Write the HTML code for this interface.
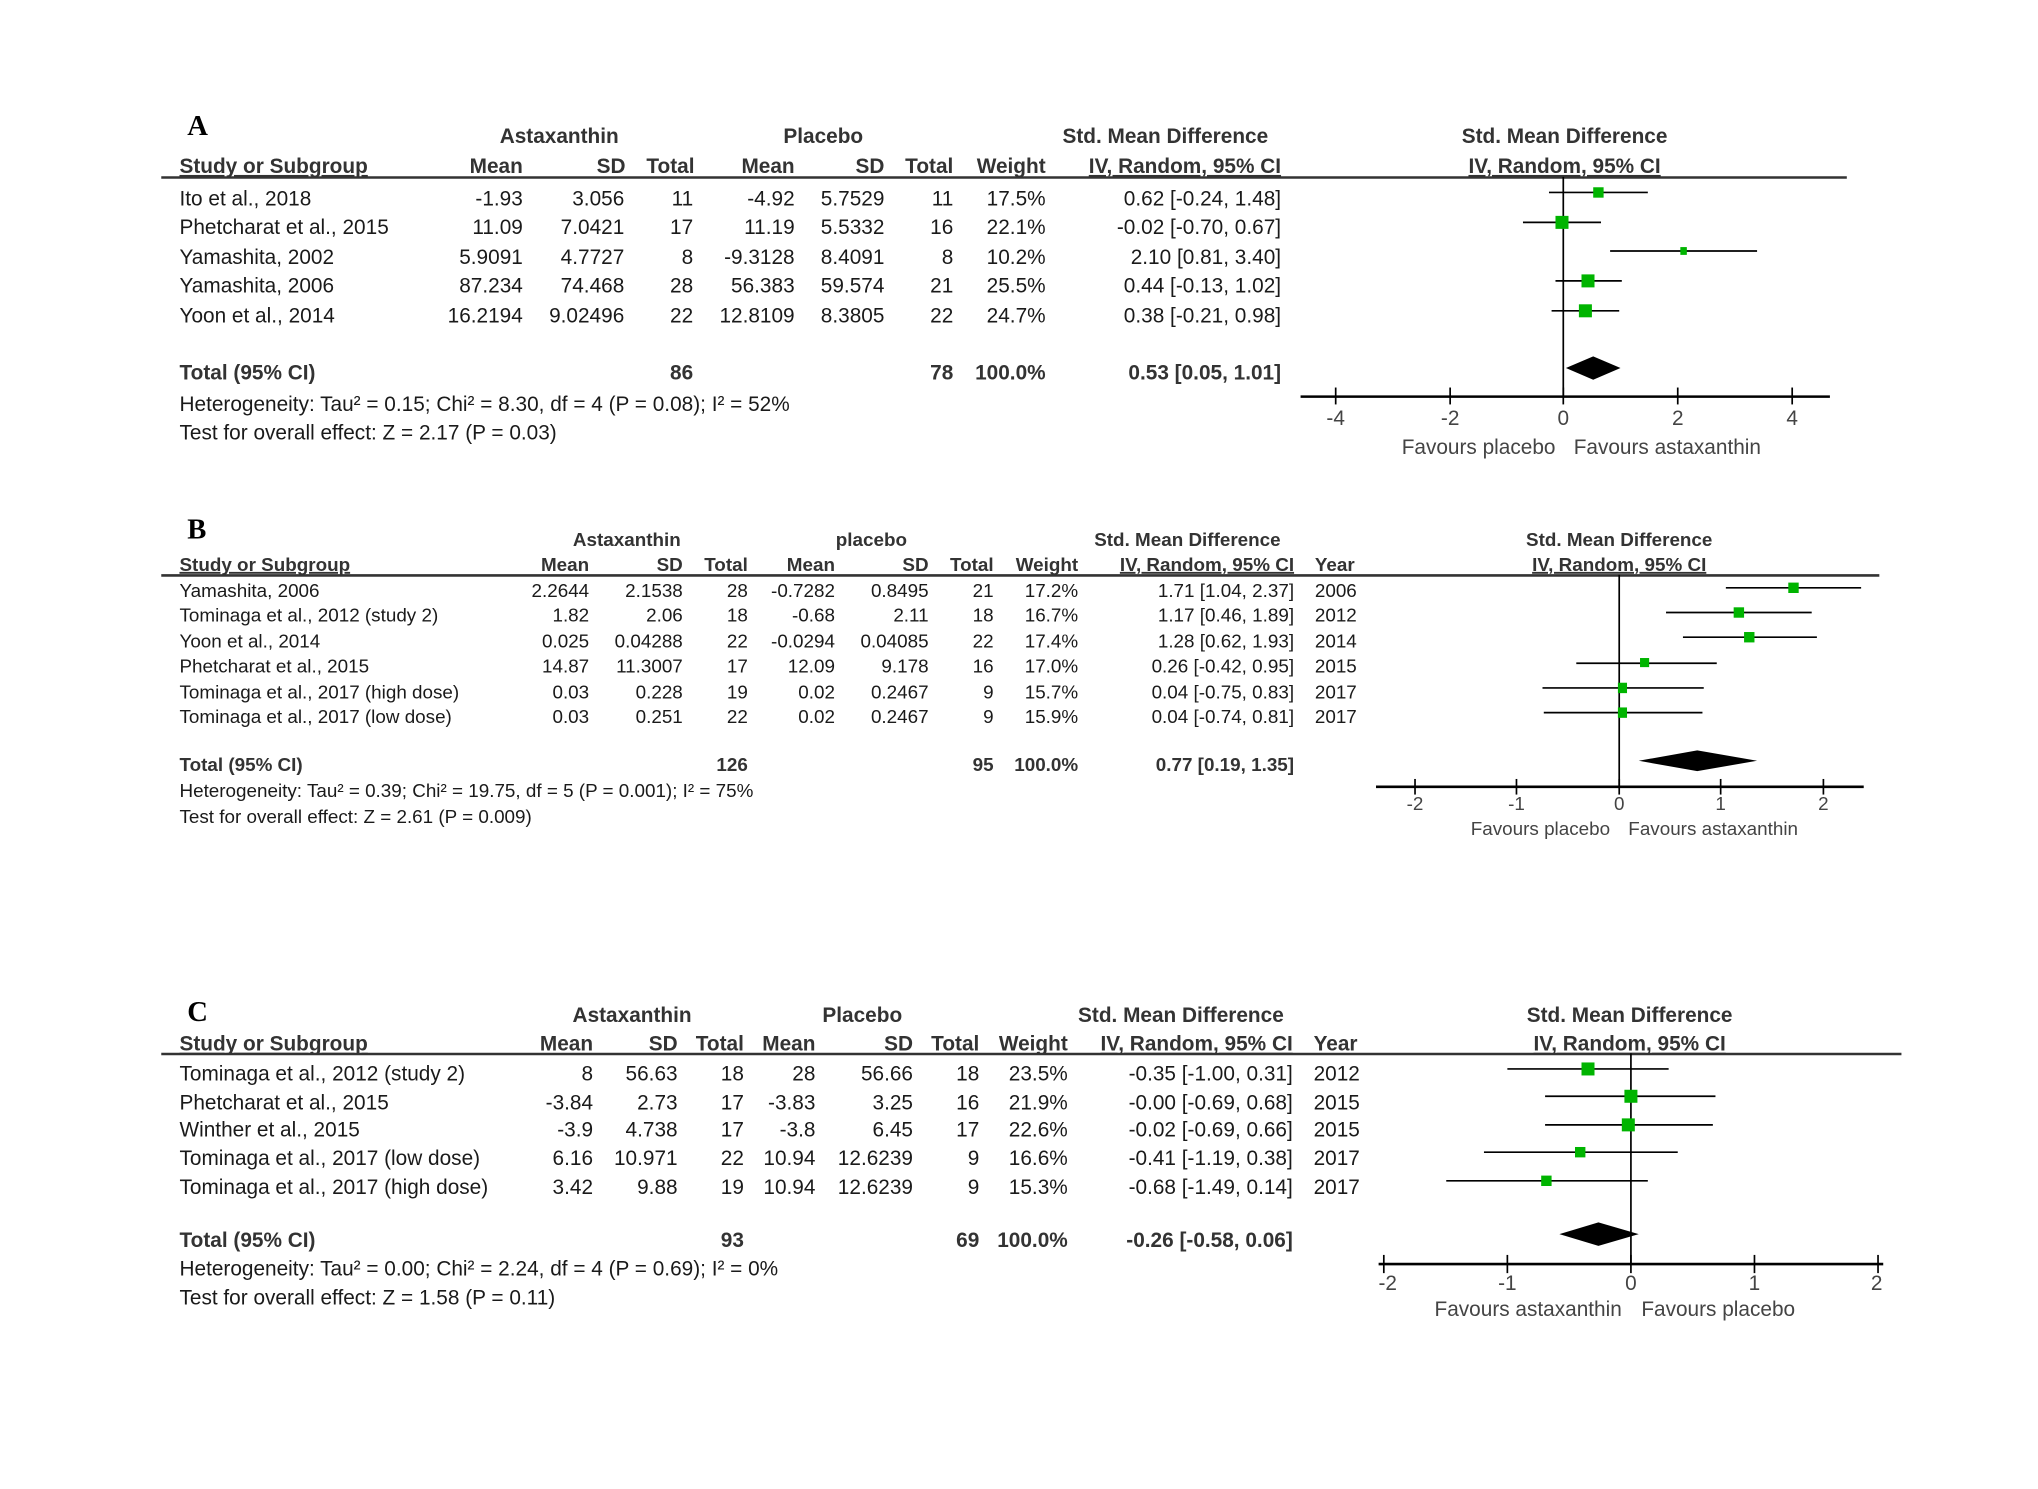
<!DOCTYPE html>
<html><head><meta charset="utf-8"><style>
html,body{margin:0;padding:0;background:#fff;}
svg{display:block;}
text{font-family:"Liberation Sans",Arial,sans-serif;fill:#1a1a1a;}
.h{font-weight:bold;fill:#333;}
.r{text-anchor:end;}
.m{text-anchor:middle;}
.L{font-family:"Liberation Serif",serif;font-weight:bold;font-size:22px;fill:#000;}
.a{font-size:16px;}
.b{font-size:14.5px;}
.g{fill:#444;}
</style></head><body>
<svg width="2038" height="1489" viewBox="0 0 1567 1145" preserveAspectRatio="none" xmlns="http://www.w3.org/2000/svg">
<rect width="1567" height="1145" fill="#fff"/>

<!-- ===== PANEL A ===== -->
<g class="a">
<text class="L" x="144" y="104">A</text>
<text class="h m" x="430" y="110">Astaxanthin</text>
<text class="h m" x="633" y="110">Placebo</text>
<text class="h m" x="896" y="110">Std. Mean Difference</text>
<text class="h m" x="1203" y="110">Std. Mean Difference</text>
<text class="h" x="138" y="133" text-decoration="underline">Study or Subgroup</text>
<text class="h r" x="402" y="133">Mean</text>
<text class="h r" x="481" y="133">SD</text>
<text class="h r" x="534" y="133">Total</text>
<text class="h r" x="611" y="133">Mean</text>
<text class="h r" x="680" y="133">SD</text>
<text class="h r" x="733" y="133">Total</text>
<text class="h r" x="804" y="133">Weight</text>
<text class="h r" x="985" y="133" text-decoration="underline">IV, Random, 95% CI</text>
<text class="h m" x="1203" y="133" text-decoration="underline">IV, Random, 95% CI</text>
<line x1="124" y1="136.5" x2="1420" y2="136.5" stroke="#333" stroke-width="2"/>

<text x="138" y="158">Ito et al., 2018</text><text class="r" x="402" y="158">-1.93</text><text class="r" x="480" y="158">3.056</text><text class="r" x="533" y="158">11</text><text class="r" x="611" y="158">-4.92</text><text class="r" x="680" y="158">5.7529</text><text class="r" x="733" y="158">11</text><text class="r" x="804" y="158">17.5%</text><text class="r" x="985" y="158">0.62 [-0.24, 1.48]</text>
<text x="138" y="180">Phetcharat et al., 2015</text><text class="r" x="402" y="180">11.09</text><text class="r" x="480" y="180">7.0421</text><text class="r" x="533" y="180">17</text><text class="r" x="611" y="180">11.19</text><text class="r" x="680" y="180">5.5332</text><text class="r" x="733" y="180">16</text><text class="r" x="804" y="180">22.1%</text><text class="r" x="985" y="180">-0.02 [-0.70, 0.67]</text>
<text x="138" y="203">Yamashita, 2002</text><text class="r" x="402" y="203">5.9091</text><text class="r" x="480" y="203">4.7727</text><text class="r" x="533" y="203">8</text><text class="r" x="611" y="203">-9.3128</text><text class="r" x="680" y="203">8.4091</text><text class="r" x="733" y="203">8</text><text class="r" x="804" y="203">10.2%</text><text class="r" x="985" y="203">2.10 [0.81, 3.40]</text>
<text x="138" y="225">Yamashita, 2006</text><text class="r" x="402" y="225">87.234</text><text class="r" x="480" y="225">74.468</text><text class="r" x="533" y="225">28</text><text class="r" x="611" y="225">56.383</text><text class="r" x="680" y="225">59.574</text><text class="r" x="733" y="225">21</text><text class="r" x="804" y="225">25.5%</text><text class="r" x="985" y="225">0.44 [-0.13, 1.02]</text>
<text x="138" y="248">Yoon et al., 2014</text><text class="r" x="402" y="248">16.2194</text><text class="r" x="480" y="248">9.02496</text><text class="r" x="533" y="248">22</text><text class="r" x="611" y="248">12.8109</text><text class="r" x="680" y="248">8.3805</text><text class="r" x="733" y="248">22</text><text class="r" x="804" y="248">24.7%</text><text class="r" x="985" y="248">0.38 [-0.21, 0.98]</text>

<text class="h" x="138" y="292">Total (95% CI)</text><text class="h r" x="533" y="292">86</text><text class="h r" x="733" y="292">78</text><text class="h r" x="804" y="292">100.0%</text><text class="h r" x="985" y="292">0.53 [0.05, 1.01]</text>
<text x="138" y="316">Heterogeneity: Tau² = 0.15; Chi² = 8.30, df = 4 (P = 0.08); I² = 52%</text>
<text x="138" y="338">Test for overall effect: Z = 2.17 (P = 0.03)</text>

<g stroke="#000" stroke-width="1.3">
<line x1="1202" y1="136" x2="1202" y2="305"/>
<line x1="1000" y1="305" x2="1407" y2="305" stroke-width="2"/>
<line x1="1027" y1="298" x2="1027" y2="311"/><line x1="1115" y1="298" x2="1115" y2="311"/><line x1="1202" y1="298" x2="1202" y2="311"/><line x1="1290" y1="298" x2="1290" y2="311"/><line x1="1378" y1="298" x2="1378" y2="311"/>
<line x1="1191" y1="148" x2="1267" y2="148"/>
<line x1="1171" y1="171" x2="1231" y2="171"/>
<line x1="1238" y1="193" x2="1351" y2="193"/>
<line x1="1196" y1="216" x2="1247" y2="216"/>
<line x1="1193" y1="239" x2="1245" y2="239"/>
</g>
<g fill="#00b400">
<rect x="1225" y="144" width="8" height="8"/>
<rect x="1196" y="166" width="10" height="10"/>
<rect x="1292" y="190" width="5" height="6"/>
<rect x="1216" y="211" width="10" height="10"/>
<rect x="1214" y="234" width="10" height="10"/>
</g>
<polygon points="1204,283 1225,274 1246,283 1225,292" fill="#000"/>
<text class="m g" x="1027" y="327">-4</text><text class="m g" x="1115" y="327">-2</text><text class="m g" x="1202" y="327">0</text><text class="m g" x="1290" y="327">2</text><text class="m g" x="1378" y="327">4</text>
<text class="r g" x="1196" y="349">Favours placebo</text><text class="g" x="1210" y="349">Favours astaxanthin</text>
</g>

<!-- ===== PANEL B ===== -->
<g class="b">
<text class="L" x="144" y="414">B</text>
<text class="h m" x="482" y="420">Astaxanthin</text>
<text class="h m" x="670" y="420">placebo</text>
<text class="h m" x="913" y="420">Std. Mean Difference</text>
<text class="h m" x="1245" y="420">Std. Mean Difference</text>
<text class="h" x="138" y="439" text-decoration="underline">Study or Subgroup</text>
<text class="h r" x="453" y="439">Mean</text>
<text class="h r" x="525" y="439">SD</text>
<text class="h r" x="575" y="439">Total</text>
<text class="h r" x="642" y="439">Mean</text>
<text class="h r" x="714" y="439">SD</text>
<text class="h r" x="764" y="439">Total</text>
<text class="h r" x="829" y="439">Weight</text>
<text class="h r" x="995" y="439" text-decoration="underline">IV, Random, 95% CI</text>
<text class="h" x="1011" y="439">Year</text>
<text class="h m" x="1245" y="439" text-decoration="underline">IV, Random, 95% CI</text>
<line x1="124" y1="442.5" x2="1445" y2="442.5" stroke="#333" stroke-width="2"/>

<text x="138" y="459">Yamashita, 2006</text><text class="r" x="453" y="459">2.2644</text><text class="r" x="525" y="459">2.1538</text><text class="r" x="575" y="459">28</text><text class="r" x="642" y="459">-0.7282</text><text class="r" x="714" y="459">0.8495</text><text class="r" x="764" y="459">21</text><text class="r" x="829" y="459">17.2%</text><text class="r" x="995" y="459">1.71 [1.04, 2.37]</text><text x="1011" y="459">2006</text>
<text x="138" y="478">Tominaga et al., 2012 (study 2)</text><text class="r" x="453" y="478">1.82</text><text class="r" x="525" y="478">2.06</text><text class="r" x="575" y="478">18</text><text class="r" x="642" y="478">-0.68</text><text class="r" x="714" y="478">2.11</text><text class="r" x="764" y="478">18</text><text class="r" x="829" y="478">16.7%</text><text class="r" x="995" y="478">1.17 [0.46, 1.89]</text><text x="1011" y="478">2012</text>
<text x="138" y="498">Yoon et al., 2014</text><text class="r" x="453" y="498">0.025</text><text class="r" x="525" y="498">0.04288</text><text class="r" x="575" y="498">22</text><text class="r" x="642" y="498">-0.0294</text><text class="r" x="714" y="498">0.04085</text><text class="r" x="764" y="498">22</text><text class="r" x="829" y="498">17.4%</text><text class="r" x="995" y="498">1.28 [0.62, 1.93]</text><text x="1011" y="498">2014</text>
<text x="138" y="517">Phetcharat et al., 2015</text><text class="r" x="453" y="517">14.87</text><text class="r" x="525" y="517">11.3007</text><text class="r" x="575" y="517">17</text><text class="r" x="642" y="517">12.09</text><text class="r" x="714" y="517">9.178</text><text class="r" x="764" y="517">16</text><text class="r" x="829" y="517">17.0%</text><text class="r" x="995" y="517">0.26 [-0.42, 0.95]</text><text x="1011" y="517">2015</text>
<text x="138" y="537">Tominaga et al., 2017 (high dose)</text><text class="r" x="453" y="537">0.03</text><text class="r" x="525" y="537">0.228</text><text class="r" x="575" y="537">19</text><text class="r" x="642" y="537">0.02</text><text class="r" x="714" y="537">0.2467</text><text class="r" x="764" y="537">9</text><text class="r" x="829" y="537">15.7%</text><text class="r" x="995" y="537">0.04 [-0.75, 0.83]</text><text x="1011" y="537">2017</text>
<text x="138" y="556">Tominaga et al., 2017 (low dose)</text><text class="r" x="453" y="556">0.03</text><text class="r" x="525" y="556">0.251</text><text class="r" x="575" y="556">22</text><text class="r" x="642" y="556">0.02</text><text class="r" x="714" y="556">0.2467</text><text class="r" x="764" y="556">9</text><text class="r" x="829" y="556">15.9%</text><text class="r" x="995" y="556">0.04 [-0.74, 0.81]</text><text x="1011" y="556">2017</text>

<text class="h" x="138" y="593">Total (95% CI)</text><text class="h r" x="575" y="593">126</text><text class="h r" x="764" y="593">95</text><text class="h r" x="829" y="593">100.0%</text><text class="h r" x="995" y="593">0.77 [0.19, 1.35]</text>
<text x="138" y="613">Heterogeneity: Tau² = 0.39; Chi² = 19.75, df = 5 (P = 0.001); I² = 75%</text>
<text x="138" y="633">Test for overall effect: Z = 2.61 (P = 0.009)</text>

<g stroke="#000" stroke-width="1.3">
<line x1="1245" y1="442" x2="1245" y2="605"/>
<line x1="1058" y1="605" x2="1433" y2="605" stroke-width="2"/>
<line x1="1088" y1="599" x2="1088" y2="611"/><line x1="1166" y1="599" x2="1166" y2="611"/><line x1="1245" y1="599" x2="1245" y2="611"/><line x1="1323" y1="599" x2="1323" y2="611"/><line x1="1402" y1="599" x2="1402" y2="611"/>
<line x1="1327" y1="452" x2="1431" y2="452"/>
<line x1="1281" y1="471" x2="1393" y2="471"/>
<line x1="1294" y1="490" x2="1397" y2="490"/>
<line x1="1212" y1="510" x2="1320" y2="510"/>
<line x1="1186" y1="529" x2="1310" y2="529"/>
<line x1="1187" y1="548" x2="1309" y2="548"/>
</g>
<g fill="#00b400">
<rect x="1375" y="448" width="8" height="8"/>
<rect x="1333" y="467" width="8" height="8"/>
<rect x="1341" y="486" width="8" height="8"/>
<rect x="1261" y="506" width="7" height="7"/>
<rect x="1244" y="525" width="7" height="8"/>
<rect x="1244" y="544" width="7" height="8"/>
</g>
<polygon points="1260,585 1305,577 1351,585 1305,593" fill="#000"/>
<text class="m g" x="1088" y="623">-2</text><text class="m g" x="1166" y="623">-1</text><text class="m g" x="1245" y="623">0</text><text class="m g" x="1323" y="623">1</text><text class="m g" x="1402" y="623">2</text>
<text class="r g" x="1238" y="642">Favours placebo</text><text class="g" x="1252" y="642">Favours astaxanthin</text>
</g>

<!-- ===== PANEL C ===== -->
<g class="a">
<text class="L" x="144" y="785">C</text>
<text class="h m" x="486" y="786">Astaxanthin</text>
<text class="h m" x="663" y="786">Placebo</text>
<text class="h m" x="908" y="786">Std. Mean Difference</text>
<text class="h m" x="1253" y="786">Std. Mean Difference</text>
<text class="h" x="138" y="808" text-decoration="underline">Study or Subgroup</text>
<text class="h r" x="456" y="808">Mean</text>
<text class="h r" x="521" y="808">SD</text>
<text class="h r" x="572" y="808">Total</text>
<text class="h r" x="627" y="808">Mean</text>
<text class="h r" x="702" y="808">SD</text>
<text class="h r" x="753" y="808">Total</text>
<text class="h r" x="821" y="808">Weight</text>
<text class="h r" x="994" y="808" text-decoration="underline">IV, Random, 95% CI</text>
<text class="h" x="1010" y="808">Year</text>
<text class="h m" x="1253" y="808" text-decoration="underline">IV, Random, 95% CI</text>
<line x1="124" y1="810.5" x2="1462" y2="810.5" stroke="#333" stroke-width="2"/>

<text x="138" y="831">Tominaga et al., 2012 (study 2)</text><text class="r" x="456" y="831">8</text><text class="r" x="521" y="831">56.63</text><text class="r" x="572" y="831">18</text><text class="r" x="627" y="831">28</text><text class="r" x="702" y="831">56.66</text><text class="r" x="753" y="831">18</text><text class="r" x="821" y="831">23.5%</text><text class="r" x="994" y="831">-0.35 [-1.00, 0.31]</text><text x="1010" y="831">2012</text>
<text x="138" y="853">Phetcharat et al., 2015</text><text class="r" x="456" y="853">-3.84</text><text class="r" x="521" y="853">2.73</text><text class="r" x="572" y="853">17</text><text class="r" x="627" y="853">-3.83</text><text class="r" x="702" y="853">3.25</text><text class="r" x="753" y="853">16</text><text class="r" x="821" y="853">21.9%</text><text class="r" x="994" y="853">-0.00 [-0.69, 0.68]</text><text x="1010" y="853">2015</text>
<text x="138" y="874">Winther et al., 2015</text><text class="r" x="456" y="874">-3.9</text><text class="r" x="521" y="874">4.738</text><text class="r" x="572" y="874">17</text><text class="r" x="627" y="874">-3.8</text><text class="r" x="702" y="874">6.45</text><text class="r" x="753" y="874">17</text><text class="r" x="821" y="874">22.6%</text><text class="r" x="994" y="874">-0.02 [-0.69, 0.66]</text><text x="1010" y="874">2015</text>
<text x="138" y="896">Tominaga et al., 2017 (low dose)</text><text class="r" x="456" y="896">6.16</text><text class="r" x="521" y="896">10.971</text><text class="r" x="572" y="896">22</text><text class="r" x="627" y="896">10.94</text><text class="r" x="702" y="896">12.6239</text><text class="r" x="753" y="896">9</text><text class="r" x="821" y="896">16.6%</text><text class="r" x="994" y="896">-0.41 [-1.19, 0.38]</text><text x="1010" y="896">2017</text>
<text x="138" y="918">Tominaga et al., 2017 (high dose)</text><text class="r" x="456" y="918">3.42</text><text class="r" x="521" y="918">9.88</text><text class="r" x="572" y="918">19</text><text class="r" x="627" y="918">10.94</text><text class="r" x="702" y="918">12.6239</text><text class="r" x="753" y="918">9</text><text class="r" x="821" y="918">15.3%</text><text class="r" x="994" y="918">-0.68 [-1.49, 0.14]</text><text x="1010" y="918">2017</text>

<text class="h" x="138" y="959">Total (95% CI)</text><text class="h r" x="572" y="959">93</text><text class="h r" x="753" y="959">69</text><text class="h r" x="821" y="959">100.0%</text><text class="h r" x="994" y="959">-0.26 [-0.58, 0.06]</text>
<text x="138" y="981">Heterogeneity: Tau² = 0.00; Chi² = 2.24, df = 4 (P = 0.69); I² = 0%</text>
<text x="138" y="1003">Test for overall effect: Z = 1.58 (P = 0.11)</text>

<g stroke="#000" stroke-width="1.3">
<line x1="1254" y1="810" x2="1254" y2="972"/>
<line x1="1060" y1="972" x2="1448" y2="972" stroke-width="2"/>
<line x1="1064" y1="965" x2="1064" y2="979"/><line x1="1159" y1="965" x2="1159" y2="979"/><line x1="1254" y1="965" x2="1254" y2="979"/><line x1="1349" y1="965" x2="1349" y2="979"/><line x1="1444" y1="965" x2="1444" y2="979"/>
<line x1="1159" y1="822" x2="1283" y2="822"/>
<line x1="1188" y1="843" x2="1319" y2="843"/>
<line x1="1188" y1="865" x2="1317" y2="865"/>
<line x1="1141" y1="886" x2="1290" y2="886"/>
<line x1="1112" y1="908" x2="1267" y2="908"/>
</g>
<g fill="#00b400">
<rect x="1216" y="817" width="10" height="10"/>
<rect x="1249" y="838" width="10" height="10"/>
<rect x="1247" y="860" width="10" height="10"/>
<rect x="1211" y="882" width="8" height="8"/>
<rect x="1185" y="904" width="8" height="8"/>
</g>
<polygon points="1199,949 1229,940 1260,949 1229,958" fill="#000"/>
<text class="m g" x="1067" y="992">-2</text><text class="m g" x="1159" y="992">-1</text><text class="m g" x="1254" y="992">0</text><text class="m g" x="1349" y="992">1</text><text class="m g" x="1443" y="992">2</text>
<text class="r g" x="1247" y="1012">Favours astaxanthin</text><text class="g" x="1262" y="1012">Favours placebo</text>
</g>
</svg>
</body></html>
